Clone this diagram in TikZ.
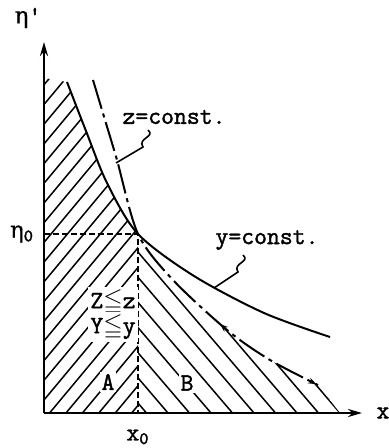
\documentclass[tikz,border=0pt]{standalone}
\usepackage{amssymb}
\usepackage{fontspec}
\setmonofont{Latin Modern Mono}[AutoFakeBold=1.6]
\newfontfamily\grkfont{DejaVu Serif}[AutoFakeBold=0.6]
\usetikzlibrary{arrows.meta,decorations.markings}

\tikzset{
  lbl/.style={font=\ttfamily\bfseries\fontsize{12.5}{14}\selectfont, inner sep=1pt},
  axis/.style={line width=1.3pt, -{Stealth[length=7pt,width=4pt]}},
  hatch/.style={line width=0.75pt},
  ycurve/.style={line width=1pt},
  zcurve/.style={line width=1pt, dash pattern=on 15pt off 2.5pt on 2pt off 2.5pt},
  guide/.style={line width=0.9pt, dash pattern=on 3pt off 1.5pt},
  leader/.style={line width=0.8pt}
}

\begin{document}
\begin{tikzpicture}[x=0.5pt,y=0.5pt]
\useasboundingbox (-44,-35) rectangle (344,413);
\coordinate (O) at (0,0);
\coordinate (P) at (94,179);
\coordinate (xend) at (318,0);
\coordinate (yend) at (0,371);
\coordinate (Pa) at (0,179);
\coordinate (Pb) at (94,0);
\begin{scope}
  \clip (0,0) rectangle (94,400);
  \clip (0,0) -- (0,335) -- plot[smooth] coordinates {(23,331) (42,282) (63,230) (94,179) (150,137) (220,100) (286,76)} -- (286,0) -- cycle;
  \foreach \k in {-7,...,17} \draw[hatch] (-5,{13+19.7*\k-6}) -- (100,{13+19.7*\k+120});
\end{scope}
\begin{scope}
  \clip (94,0) rectangle (300,190);
  \clip (0,0) -- (0,333) -- plot[smooth] coordinates {(49,333) (61,293) (73,253) (94,179) (129,133) (183,83) (226,53) (274,28)} -- (296,0) -- cycle;
  \foreach \k in {0,...,9} \draw[hatch] ({296-21.5*\k-200},234) -- ({296-21.5*\k+10},-11.7);
\end{scope}
\draw[ycurve] plot[smooth] coordinates {(23,331) (42,282) (63,230) (94,179) (150,137) (220,100) (286,76)};
\draw[zcurve, postaction={decorate, decoration={markings,
    mark=at position 0.73 with {\arrow{Stealth[length=4pt,width=3pt,reversed]}},
    mark=at position 0.995 with {\arrow{Stealth[length=4pt,width=3pt]}}}}]
  plot[smooth] coordinates {(49,333) (61,293) (73,253) (94,179) (129,133) (183,83) (226,53) (274,28)};
\draw[guide] (Pa) -- (P) -- (Pb);
\draw[axis] (O) -- (xend);
\draw[axis] (O) -- (yend);
\node[lbl] (etaP) at (-16,395) {{\grkfont\fontsize{11.5}{14}\selectfont η}'};
\node[lbl] (eta0) at (-22,179) {{\grkfont\fontsize{11.5}{14}\selectfont η}\textsubscript{0}};
\node[lbl] (x0) at (94,-24) {x\textsubscript{0}};
\node[lbl] (xlab) at (339,0) {x};
\node[lbl] (zlab) at (130,296) {z=const.};
\node[lbl] (ylab) at (223,173) {y=const.};
\node[lbl, fill=white] (Zz) at (69,111) {Z$\leqq$z};
\node[lbl, fill=white] (Yy) at (69,86) {Y$\leqq$y};
\node[lbl, fill=white] (A) at (64,31) {A};
\node[lbl, fill=white] (B) at (143,30) {B};
\coordinate (zs) at (104,283);
\coordinate (zt) at (72,250);
\coordinate (ys) at (199,158);
\coordinate (yt) at (170,125);
\draw[leader] (zs) .. controls (112,276) and (93,275) .. (99,266) -- (zt);
\draw[leader] (ys) .. controls (207,151) and (188,150) .. (194,141) -- (yt);
\end{tikzpicture}
\end{document}
